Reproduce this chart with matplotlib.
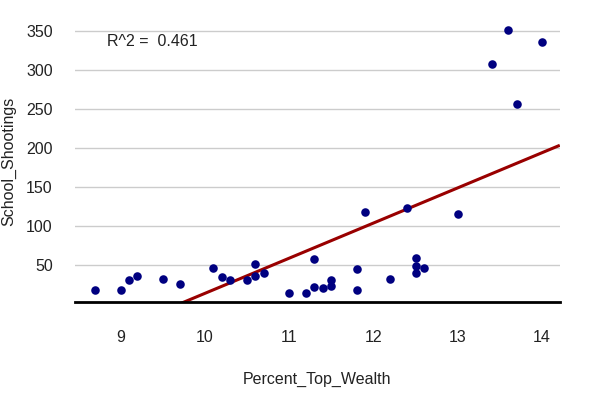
import numpy as np
import matplotlib
matplotlib.use("Agg")
import matplotlib.pyplot as plt

# ---- данные ----
percent_top_wealth = [
    8.70, 9.00, 9.10, 9.20, 9.50, 9.70, 10.10, 10.20, 10.30, 10.50, 10.60, 10.60, 10.70,
    11.00, 11.20, 11.30, 11.30, 11.40, 11.50, 11.50, 11.80, 11.80, 11.90, 12.20, 12.40,
    12.50, 12.50, 12.50, 12.60, 13.00, 13.40, 13.60, 13.70, 14.00,
]
school_shootings = [
    19, 18, 31, 36, 33, 26, 46, 35, 31, 31, 52, 36, 40,
    14, 15, 58, 22, 21, 31, 23, 45, 19, 118, 33, 124,
    59, 49, 40, 46, 116, 308, 352, 257, 336,
]
r2_label = "R^2 =  0.461"
x_ticks = [9, 10, 11, 12, 13, 14]
y_ticks = [50, 100, 150, 200, 250, 300, 350]

plt.rcParams["font.family"] = ["Liberation Sans", "DejaVu Sans"]

fig = plt.figure(figsize=(6, 4), dpi=100)
ax = fig.add_axes([0.125, 0.244, 0.808, 0.706])

x = np.array(percent_top_wealth)
y = np.array(school_shootings)

# линия тренда — МНК по данным
k, b = np.polyfit(x, y, 1)
xlim = (8.46, 14.21)
ylim = (2.5, 364.4)
xs = np.array(xlim)
ax.plot(xs, k * xs + b, color="#990000", lw=2.2, zorder=3, solid_capstyle="butt")

ax.scatter(x, y, s=38, color="#000080", zorder=4, linewidths=0)

ax.set_xlim(*xlim)
ax.set_ylim(*ylim)
ax.set_xticks(x_ticks)
ax.set_yticks(y_ticks)
ax.tick_params(length=0, labelsize=11.5, colors="#222222")
ax.tick_params(axis="x", pad=20)
ax.tick_params(axis="y", pad=16)
ax.grid(axis="y", color="#cccccc", lw=1)
ax.set_axisbelow(True)
for s in ("top", "right", "left"):
    ax.spines[s].set_visible(False)
ax.spines["bottom"].set_color("black")
ax.spines["bottom"].set_linewidth(2)
ax.spines["bottom"].set_zorder(5)

ax.set_xlabel("Percent_Top_Wealth", fontsize=11.5, labelpad=19, color="#222222")
ax.set_ylabel("School_Shootings", fontsize=11.5, labelpad=7, color="#222222")

ax.text(0.066, 0.925, r2_label, transform=ax.transAxes, fontsize=11.5,
        ha="left", va="center", color="#222222")

fig.savefig("out.png", dpi=100)
